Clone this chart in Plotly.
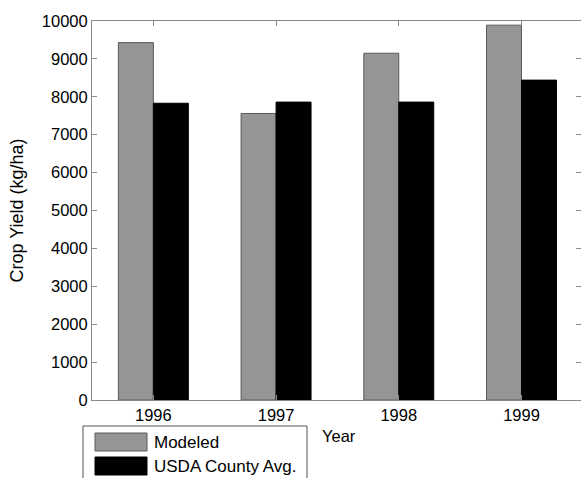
import plotly.graph_objects as go

years = ["1996", "1997", "1998", "1999"]
modeled = [9430, 7560, 9150, 9890]
usda_avg = [7830, 7860, 7860, 8440]
series_names = ["Modeled", "USDA County Avg."]
y_ticks = [0, 1000, 2000, 3000, 4000, 5000, 6000, 7000, 8000, 9000, 10000]

W, H = 581, 478
ML, MR, MT, MB = 92, 0, 21, 78
PW, PH = W - ML - MR, H - MT - MB

FONT = "Liberation Sans, Arial, sans-serif"
GRAY_FILL = "#959595"
EDGE = "#5a5a5a"
AXIS = "#8a8a8a"


def px(x):
    return (x - ML) / PW


def py(y):
    return (H - MB - y) / PH


fig = go.Figure()
fig.add_trace(go.Bar(x=years, y=modeled, name=series_names[0],
                     marker=dict(color=GRAY_FILL, line=dict(color=EDGE, width=1))))
fig.add_trace(go.Bar(x=years, y=usda_avg, name=series_names[1],
                     marker=dict(color="#000000", line=dict(color="#000000", width=1))))

# boxed legend below the axes, with wide swatches
shapes = [dict(type="rect", xref="paper", yref="paper",
               x0=px(83), x1=px(307), y0=py(484), y1=py(426),
               line=dict(color="#555555", width=1), fillcolor="white", layer="above")]
annotations = []
swatch_rows = [(433, 451, GRAY_FILL, EDGE), (457, 475, "#000000", "#000000")]
for (top, bot, fill, edge), name in zip(swatch_rows, series_names):
    shapes.append(dict(type="rect", xref="paper", yref="paper",
                       x0=px(95), x1=px(147), y0=py(bot), y1=py(top),
                       fillcolor=fill, line=dict(color=edge, width=1), layer="above"))
    annotations.append(dict(text=name, xref="paper", yref="paper",
                            x=px(152), y=py((top + bot) / 2), xanchor="left", yanchor="middle",
                            showarrow=False, font=dict(family=FONT, size=17, color="black")))

annotations.append(dict(text="Year", xref="paper", yref="paper", x=px(339), y=py(436),
                        xanchor="center", yanchor="middle", showarrow=False,
                        font=dict(family=FONT, size=16.5, color="black")))

fig.update_layout(
    width=W, height=H,
    margin=dict(l=ML, r=MR, t=MT, b=MB, pad=0),
    paper_bgcolor="white", plot_bgcolor="white",
    barmode="group", bargap=0.43, bargroupgap=0,
    showlegend=False,
    font=dict(family=FONT, size=16.5, color="black"),
    shapes=shapes, annotations=annotations,
)
fig.update_xaxes(range=[-0.5, 3.485], showline=True, linecolor=AXIS, linewidth=1,
                 mirror="ticks", ticks="inside", ticklen=5, tickcolor=AXIS,
                 showgrid=False, zeroline=False, tickfont=dict(size=16.5))
fig.update_yaxes(range=[0, 10000], tickvals=y_ticks, tickformat="d", showline=True,
                 linecolor=AXIS, linewidth=1, mirror="ticks", ticks="inside", ticklen=5,
                 tickcolor=AXIS, showgrid=False, zeroline=False, tickfont=dict(size=16.5),
                 title=dict(text="Crop Yield (kg/ha)", font=dict(size=18), standoff=13))

fig.write_html("out.html")
